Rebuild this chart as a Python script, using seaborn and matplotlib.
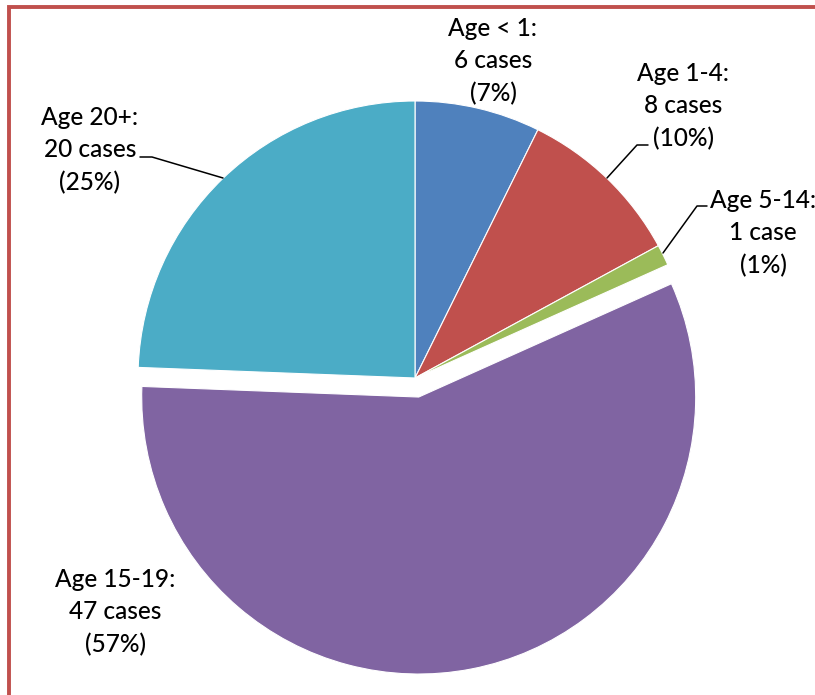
import matplotlib
matplotlib.use("Agg")
import matplotlib.pyplot as plt
import seaborn as sns
from matplotlib.patches import Rectangle

categories = ["Age < 1", "Age 1-4", "Age 5-14", "Age 15-19", "Age 20+"]
cases = [6, 8, 1, 47, 20]
percents = [7, 10, 1, 57, 25]
colors = ["#4F81BD", "#C0504D", "#9BBB59", "#8064A2", "#4BACC6"]
explode_frac = [0, 0, 0, 0.07, 0]

sns.set_theme(style="white")
plt.rcParams["font.family"] = ["Lato", "DejaVu Sans"]

W, H = 815, 695
fig = plt.figure(figsize=(W / 100, H / 100), dpi=100)
ax = fig.add_axes([0, 0, 1, 1])

def Y(y):
    return H - y

R = 277
ax.pie(cases, colors=colors, startangle=90, counterclock=False,
       center=(415, Y(378)), radius=R, explode=[e * R for e in explode_frac],
       wedgeprops=dict(edgecolor="white", linewidth=0.8))
ax.set_xlim(0, W)
ax.set_ylim(0, H)
ax.set_aspect("equal")
ax.axis("off")

def lab(i):
    c = cases[i]
    return f"{categories[i]}:\n{c} case{'s' if c != 1 else ''}\n({percents[i]}%)"

label_pos = [(493, 61), (683, 106), (763, 233), (115, 612), (90, 150)]
for i, (x, y) in enumerate(label_pos):
    ax.text(x, Y(y), lab(i), ha="center", va="center", fontsize=17.6,
            linespacing=1.5, color="black", fontweight="medium")

# leader lines
leaders = [
    [(140, 157), (152, 157), (223, 178)],
    [(648, 145), (637, 145), (607, 178)],
    [(707, 206), (697, 206), (663, 253)],
]
for pts in leaders:
    ax.plot([p[0] for p in pts], [Y(p[1]) for p in pts], color="black", lw=1.1)

# red frame
ax.add_patch(Rectangle((8.5, Y(7) - 800), 900, 800, fill=False,
                       edgecolor="#C0504D", lw=2.8, clip_on=False))

fig.savefig("out.png", dpi=100)
